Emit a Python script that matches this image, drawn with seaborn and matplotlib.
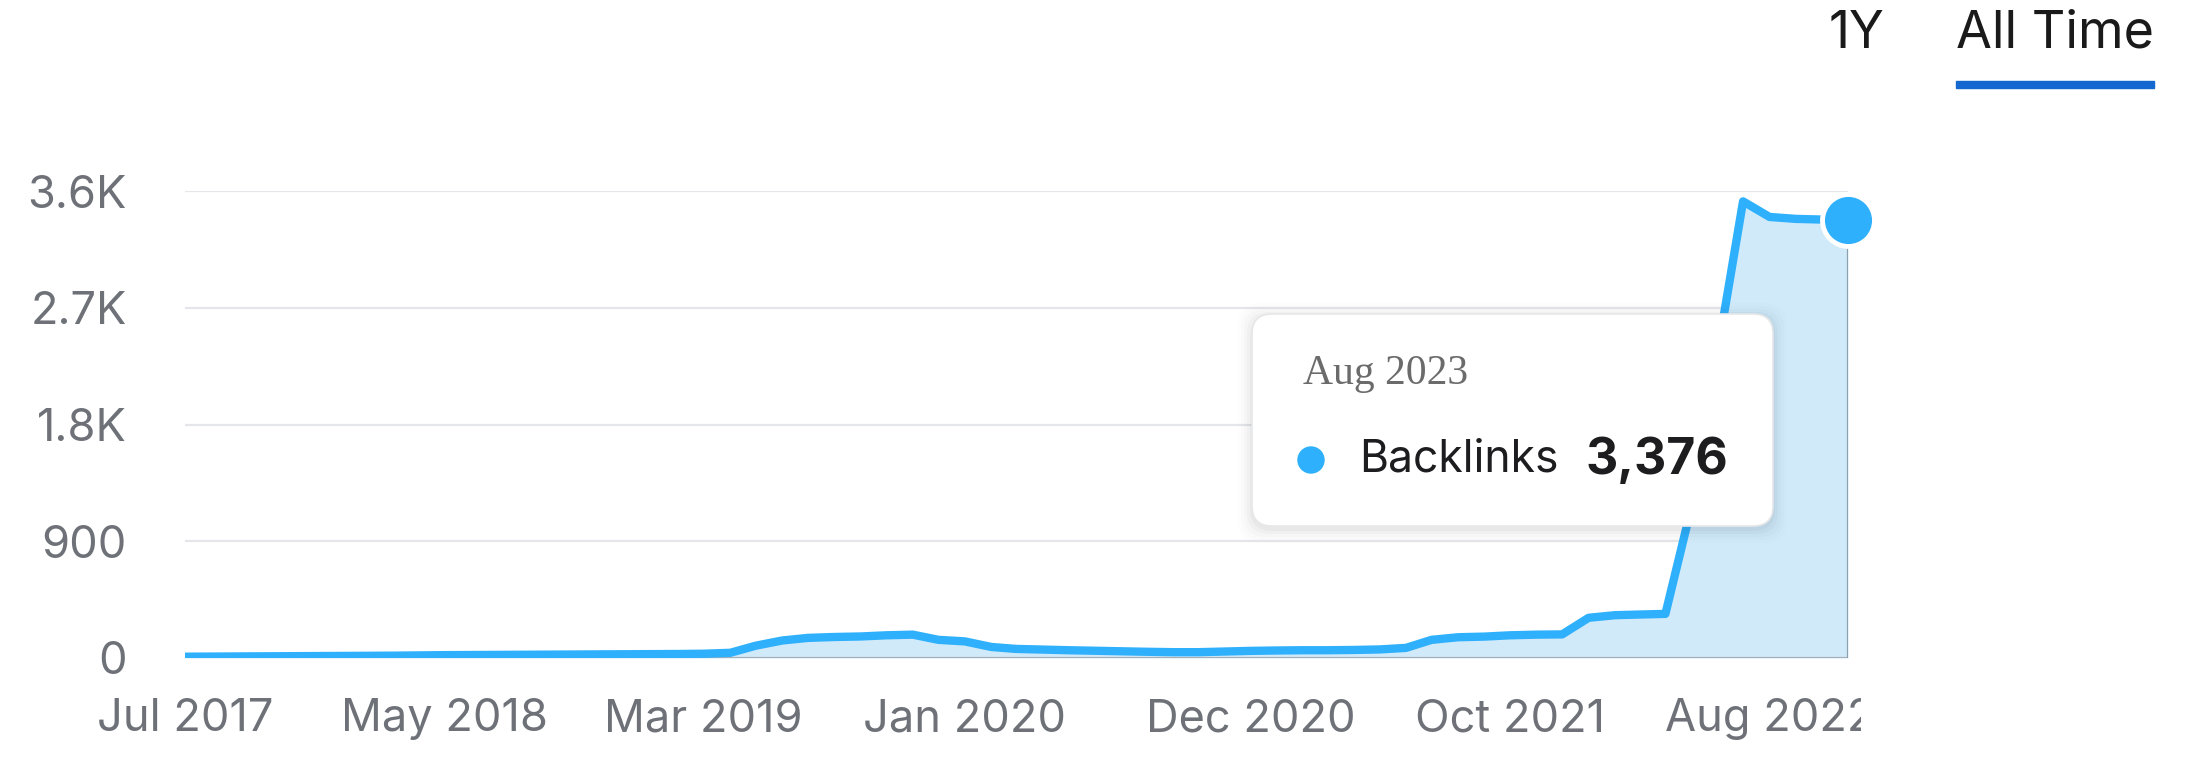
import pandas as pd
import matplotlib
matplotlib.use("Agg")
import matplotlib.pyplot as plt
import seaborn as sns
from matplotlib.patches import FancyBboxPatch
from matplotlib.transforms import Bbox, IdentityTransform

# monthly backlink counts, Jul 2017 .. Nov 2022
months = pd.date_range("2017-07-01", "2022-11-01", freq="MS")
backlinks = [10, 11, 12, 13, 14, 15, 16, 17, 18, 20,
             22, 23, 24, 25, 26, 27, 28, 29, 30, 31,
             33, 40, 95, 135, 155, 162, 166, 175, 180, 140,
             128, 85, 70, 65, 60, 56, 52, 48, 45, 45,
             50, 55, 58, 60, 60, 62, 66, 78, 140, 160,
             165, 175, 180, 182, 310, 330, 335, 340, 1150, 2350,
             3520, 3400, 3385, 3380, 3376]

xtick_dates = ["2017-07-01", "2018-05-01", "2019-03-01", "2020-01-01",
               "2020-12-01", "2021-10-01", "2022-08-01"]
xtick_labels = ["Jul 2017", "May 2018", "Mar 2019", "Jan 2020",
                "Dec 2020", "Oct 2021", "Aug 2022"]
ytick_values = [0, 900, 1800, 2700, 3600]
ytick_labels = ["0", "900", "1.8K", "2.7K", "3.6K"]

tooltip_date = "Aug 2023"
tooltip_series = "Backlinks"
tooltip_value = "3,376"
range_buttons = ["1Y", "All Time"]

df = pd.DataFrame({"month": months, "backlinks": backlinks})

LINE = "#2eb0fc"
FILL = "#d0eafa"
GREY = "#6e7278"

W, H = 2186, 759
sns.set_theme(style="white")
plt.rcParams["font.family"] = ["Inter", "DejaVu Sans"]

fig = plt.figure(figsize=(W / 100, H / 100), dpi=100)
ax = fig.add_axes([185 / W, 101 / H, (1848 - 185) / W, (658 - 191) / H])

def fx(x):
    return x / W

def fy(y_top):
    return 1 - y_top / H

ax.fill_between(df["month"], df["backlinks"], 0, color=FILL, lw=0, zorder=1)
sns.lineplot(data=df, x="month", y="backlinks", color=LINE, linewidth=6,
             ax=ax, zorder=3, solid_joinstyle="round", solid_capstyle="round")
ax.axhline(0, color="#a7aeb6", lw=1.6, zorder=2)
ax.plot([df["month"].iloc[-1]] * 2, [0, backlinks[-1]], color="#8fa0ad",
        lw=1.6, zorder=2)
ax.scatter([df["month"].iloc[-1]], [backlinks[-1]], s=1400, color=LINE,
           edgecolor="white", linewidth=3.5, zorder=6, clip_on=False)

ax.set_xlim(df["month"].iloc[0], df["month"].iloc[-1])
ax.set_ylim(0, 3600)
ax.set_yticks(ytick_values)
ax.set_yticklabels(ytick_labels)
ax.set_xticks(pd.to_datetime(xtick_dates))
ax.set_xticklabels(xtick_labels)
ax.yaxis.grid(True, color="#e4e6e9", lw=1.6, zorder=0)
ax.xaxis.grid(False)
for s in ax.spines.values():
    s.set_visible(False)
ax.set_xlabel("")
ax.set_ylabel("")
ax.tick_params(axis="y", length=0, pad=42, labelsize=32.5, labelcolor=GREY)
ax.tick_params(axis="x", length=0, pad=29, labelsize=32.5, labelcolor=GREY)

# last label is cut at the plot edge
last = ax.get_xticklabels()[-1]
last.set_clip_on(True)
last.set_clip_box(Bbox.from_extents(0, 0, 1861, H))

# tooltip
bx0, by0, bx1, by1 = 1252, 314, 1773, 526
for i, a in enumerate([0.03, 0.022, 0.016, 0.01, 0.006]):
    g = 4 + i * 6
    fig.patches.append(FancyBboxPatch(
        (bx0 - g / 2, H - by1 - g / 2 - 3), bx1 - bx0 + g, by1 - by0 + g,
        boxstyle="round,pad=0,rounding_size=22", transform=IdentityTransform(),
        facecolor="black", edgecolor="none", alpha=a, zorder=8))
fig.patches.append(FancyBboxPatch(
    (bx0, H - by1), bx1 - bx0, by1 - by0,
    boxstyle="round,pad=0,rounding_size=20", transform=IdentityTransform(),
    facecolor="white", edgecolor="#e6e7e9", lw=1.2, zorder=9))
fig.text(fx(1303), fy(374), tooltip_date, family=["Liberation Serif"],
         fontsize=30, color="#6b6b6b", va="center", ha="left", zorder=10)
fig.patches.append(plt.Circle((1311, H - 460), 13, transform=IdentityTransform(),
                              color=LINE, zorder=10))
fig.text(fx(1359), fy(460), tooltip_series, fontsize=32, color="#1d1d1f",
         va="center", ha="left", zorder=10)
fig.text(fx(1586), fy(460), tooltip_value, fontsize=36, color="#1d1d1f",
         fontweight="bold", va="center", ha="left", zorder=10)

# range selector
fig.text(fx(1829), fy(34), range_buttons[0], fontsize=37, color="#1a1a1a",
         va="center", ha="left")
fig.text(fx(1956), fy(34), range_buttons[1], fontsize=37.5, color="#1a1a1a",
         va="center", ha="left")
fig.patches.append(plt.Rectangle((1956, H - 88), 2154 - 1956, 7,
                                 transform=IdentityTransform(),
                                 color="#1468cf"))

fig.savefig("out.png", dpi=100)
